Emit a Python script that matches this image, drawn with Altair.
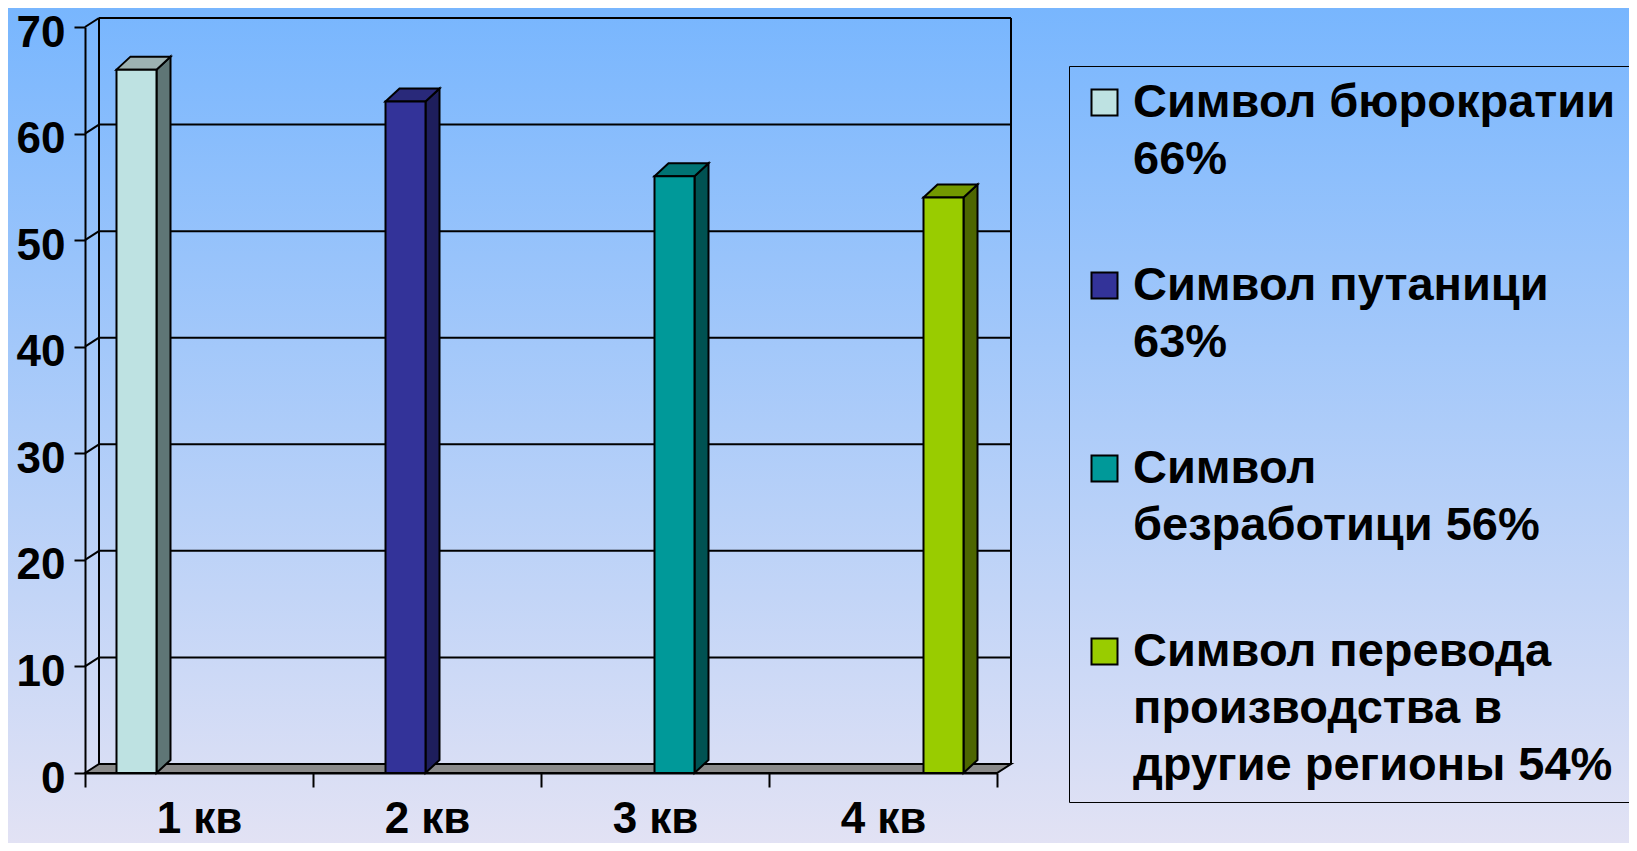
import json
import altair as alt
import pandas as pd

# ---------------- data ----------------
categories = ["1 кв", "2 кв", "3 кв", "4 кв"]
series = [
    "Символ бюрократии 66%",
    "Символ путаници 63%",
    "Символ безработици 56%",
    "Символ перевода производства в другие регионы 54%",
]
legend_lines = [
    ["Символ бюрократии", "66%"],
    ["Символ путаници", "63%"],
    ["Символ", "безработици 56%"],
    ["Символ перевода", "производства в", "другие регионы 54%"],
]
values = [66, 63, 56, 54]
y_ticks = [0, 10, 20, 30, 40, 50, 60, 70]

front_colors = ["#bee2e2", "#333399", "#009999", "#99cc00"]
side_colors = ["#5f7676", "#1e1e5c", "#005252", "#4d6600"]
top_colors = ["#9db2b2", "#29297a", "#007474", "#739900"]
floor_color = "#8a8a8a"

# ---------------- layout ----------------
W, H = 912, 746
PAD = {"left": 77, "top": 19, "right": 1621 - 77 - 912, "bottom": 835 - 19 - 746}
XMAX, YMAX = len(categories), 70
PXX = W / XMAX
PXY = H / YMAX
WALL_DX, WALL_DY = 14 / PXX, 9 / PXY
BAR_DX, BAR_DY = 14 / PXX, 13 / PXY
GAP, PITCH, BAR_W = 31.5 / PXX, 41 / PXX, 40 / PXX
FONT = "Liberation Sans"

XS = alt.Scale(domain=[0, XMAX], nice=False, zero=False)
YS = alt.Scale(domain=[0, YMAX], nice=False, zero=False)

# front faces
front = pd.DataFrame({
    "category": categories,
    "series": series,
    "value": values,
})
front["x1"] = [i + GAP + i * PITCH for i in range(len(values))]
front["x2"] = front["x1"] + BAR_W
front["base"] = 0

# side and top faces (parallelograms as areas)
side_rows, top_rows = [], []
for i, (l, r, v) in enumerate(zip(front["x1"], front["x2"], values)):
    side_rows += [
        {"shape": i, "x": r, "lo": 0, "hi": v, "fill": side_colors[i]},
        {"shape": i, "x": r + BAR_DX, "lo": BAR_DY, "hi": v + BAR_DY, "fill": side_colors[i]},
    ]
    top_rows += [
        {"shape": i, "x": l, "lo": v, "hi": v, "fill": top_colors[i]},
        {"shape": i, "x": l + BAR_DX, "lo": v, "hi": v + BAR_DY, "fill": top_colors[i]},
        {"shape": i, "x": r, "lo": v, "hi": v + BAR_DY, "fill": top_colors[i]},
        {"shape": i, "x": r + BAR_DX, "lo": v + BAR_DY, "hi": v + BAR_DY, "fill": top_colors[i]},
    ]
side_df = pd.DataFrame(side_rows)
top_df = pd.DataFrame(top_rows)

floor_df = pd.DataFrame([
    {"x": 0, "lo": 0, "hi": 0},
    {"x": WALL_DX, "lo": 0, "hi": WALL_DY},
    {"x": XMAX, "lo": 0, "hi": WALL_DY},
    {"x": XMAX + WALL_DX, "lo": WALL_DY, "hi": WALL_DY},
])

# wall lines
wall_rows = []
for v in y_ticks:
    if v > 0:
        wall_rows.append({"x": WALL_DX, "x2": XMAX + WALL_DX, "y": v + WALL_DY, "y2": v + WALL_DY})
        wall_rows.append({"x": 0, "x2": WALL_DX, "y": v, "y2": v + WALL_DY})
wall_rows.append({"x": WALL_DX, "x2": WALL_DX, "y": WALL_DY, "y2": YMAX + WALL_DY})
wall_rows.append({"x": XMAX + WALL_DX, "x2": XMAX + WALL_DX, "y": WALL_DY, "y2": YMAX + WALL_DY})
wall_df = pd.DataFrame(wall_rows)

# ---------------- axes / legend ----------------
x_label_expr = json.dumps(categories + [""], ensure_ascii=False) + "[datum.value]"
XAX = alt.Axis(
    values=list(range(XMAX + 1)), labelExpr=x_label_expr, labelOffset=PXX / 2,
    labelFlush=False, labelOverlap=False, grid=False, title=None, zindex=1,
    tickSize=14, tickColor="black", tickWidth=2,
    domainColor="black", domainWidth=2,
    labelFont=FONT, labelFontSize=44, labelFontWeight="bold", labelColor="black",
    labelPadding=10,
)
YAX = alt.Axis(
    values=y_ticks, grid=False, title=None, zindex=1,
    tickSize=11, tickColor="black", tickWidth=2,
    domainColor="black", domainWidth=2,
    labelFont=FONT, labelFontSize=44, labelFontWeight="bold", labelColor="black",
    labelPadding=9, labelOffset=6,
)

legend_expr = ""
for s, lines in zip(series, legend_lines):
    legend_expr += f"datum.label === {json.dumps(s, ensure_ascii=False)} ? {json.dumps(lines, ensure_ascii=False)} : "
legend_expr += "datum.label"

LEG = alt.Legend(
    title=None, orient="none", legendX=984, legendY=39,
    labelExpr=legend_expr, labelLimit=2000,
    labelFont=FONT, labelFontSize=47, labelFontWeight="bold", labelColor="black",
    labelOffset=5, symbolType="square", symbolSize=676, symbolOffset=-1,
    symbolStrokeColor="black", symbolStrokeWidth=2, symbolOpacity=1,
    padding=13, rowPadding=78, strokeColor="black", zindex=1,
)

# ---------------- layers ----------------
background = alt.Chart(alt.Data(values=[{}])).mark_rect(
    fill=alt.LinearGradient(
        gradient="linear", x1=0, y1=0, x2=0, y2=1,
        stops=[alt.GradientStop(offset=0, color="#78b6fe"),
               alt.GradientStop(offset=1, color="#e2e2f4")],
    ),
).encode(
    x=alt.value(-PAD["left"]), x2=alt.value(W + PAD["right"]),
    y=alt.value(-PAD["top"]), y2=alt.value(H + PAD["bottom"]),
)

walls = alt.Chart(wall_df).mark_rule(color="black", strokeWidth=2).encode(
    x=alt.X("x:Q", scale=XS, axis=XAX), x2="x2:Q",
    y=alt.Y("y:Q", scale=YS, axis=YAX), y2="y2:Q",
)

floor = alt.Chart(floor_df).mark_area(
    color=floor_color, stroke="black", strokeWidth=2, opacity=1, interpolate="linear"
).encode(
    x=alt.X("x:Q", scale=XS, axis=XAX),
    y=alt.Y("hi:Q", scale=YS, axis=YAX, stack=None), y2="lo:Q",
)

sides = alt.Chart(side_df).mark_area(
    stroke="black", strokeWidth=2, opacity=1, interpolate="linear"
).encode(
    x=alt.X("x:Q", scale=XS, axis=XAX),
    y=alt.Y("hi:Q", scale=YS, axis=YAX, stack=None), y2="lo:Q",
    fill=alt.Fill("fill:N", scale=None),
    detail="shape:N",
)

tops = alt.Chart(top_df).mark_area(
    stroke="black", strokeWidth=2, opacity=1, interpolate="linear"
).encode(
    x=alt.X("x:Q", scale=XS, axis=XAX),
    y=alt.Y("hi:Q", scale=YS, axis=YAX, stack=None), y2="lo:Q",
    fill=alt.Fill("fill:N", scale=None),
    detail="shape:N",
)

bars = alt.Chart(front).mark_rect(stroke="black", strokeWidth=2, opacity=1).encode(
    x=alt.X("x1:Q", scale=XS, axis=XAX), x2="x2:Q",
    y=alt.Y("value:Q", scale=YS, axis=YAX), y2="base:Q",
    fill=alt.Fill("series:N", scale=alt.Scale(domain=series, range=front_colors), legend=LEG),
)

chart = alt.layer(background, walls, floor, sides, tops, bars).properties(
    width=W, height=H, padding=PAD, autosize=alt.AutoSizeParams(type="none"),
).configure_view(stroke=None).configure(
    style={"guide-label": {"lineHeight": 57}}
)

chart.save("out.html", embed_options={"renderer": "svg", "actions": False})
